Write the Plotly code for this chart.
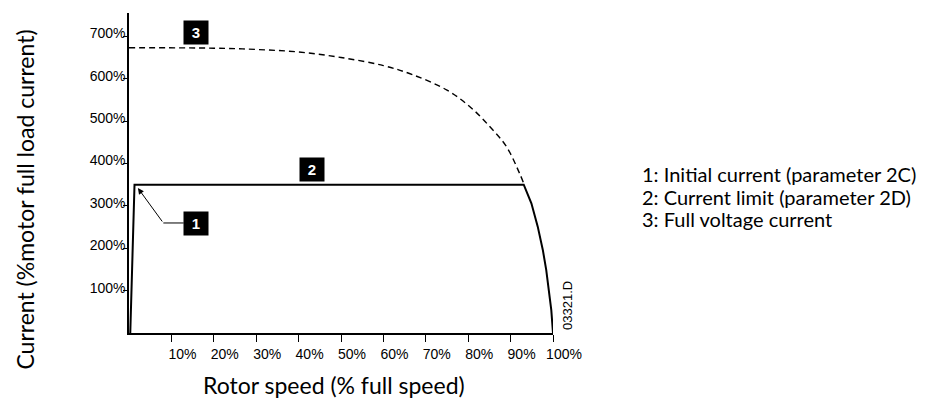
import plotly.graph_objects as go

# ---- data ----
speed_limit = [0.3, 1.3, 93.1, 94.9, 96.4, 97.6, 98.4, 99.0, 99.6, 100.0]
current_limit = [0, 350, 350, 306, 251, 196, 149, 101, 54, 0]

speed_full = [0, 20, 30, 40, 50, 60, 67, 75, 80.4, 85, 89, 92.1, 93.1]
current_full = [673, 672, 669, 663, 650, 631, 609, 573, 534, 488, 440, 377, 353]

x_ticks = [10, 20, 30, 40, 50, 60, 70, 80, 90, 100]
x_labels = ["10%", "20%", "30%", "40%", "50%", "60%", "70%", "80%", "90%", "100%"]
y_ticks = [100, 200, 300, 400, 500, 600, 700]
y_labels = ["100%", "200%", "300%", "400%", "500%", "600%", "700%"]

legend_lines = ["1: Initial current (parameter 2C)",
                "2: Current limit (parameter 2D)",
                "3: Full voltage current"]

fig = go.Figure()
fig.add_trace(go.Scatter(x=speed_full, y=current_full, mode="lines",
                         line=dict(color="black", width=1.4, dash="6px,4px"),
                         line_shape="spline", cliponaxis=False, hoverinfo="skip"))
fig.add_trace(go.Scatter(x=speed_limit, y=current_limit, mode="lines",
                         line=dict(color="black", width=2),
                         cliponaxis=False, hoverinfo="skip"))
# arrow leader horizontal segment
fig.add_trace(go.Scatter(x=[8.1, 12.9], y=[259.6, 259.6], mode="lines",
                         line=dict(color="black", width=1), hoverinfo="skip"))

# page body has an 8px margin, so the figure is drawn offset by (8, 8)
fig.update_layout(
    width=910, height=391,
    margin=dict(l=120.5, r=364.5, t=5, b=66),
    paper_bgcolor="white", plot_bgcolor="white",
    showlegend=False,
    font=dict(family="Liberation Sans, Arial, sans-serif", color="black"),
)
fig.update_xaxes(range=[0, 100], showgrid=False, zeroline=False,
                 showline=True, linecolor="black", linewidth=1.5,
                 ticks="outside", ticklen=7, tickwidth=1, tickcolor="black",
                 tickvals=x_ticks, ticktext=x_labels,
                 tickfont=dict(size=14, family="Liberation Sans, Arial"),
                 ticklabelshift=11)
fig.update_yaxes(range=[0, 755], showgrid=False, zeroline=False,
                 showline=True, linecolor="black", linewidth=1.5,
                 ticks="outside", ticklen=4, tickwidth=1, tickcolor="black",
                 tickvals=y_ticks, ticktext=y_labels,
                 tickfont=dict(size=14, family="Liberation Sans, Arial"),
                 ticklabelstandoff=-5, ticklabelshift=-3)

def box(x, y, t):
    fig.add_annotation(x=x, y=y, xref="x", yref="y", text="<b>%s</b>" % t,
                       showarrow=False, bgcolor="black", width=24, height=23,
                       borderpad=0,
                       font=dict(color="white", size=15, family="Liberation Sans, Arial"))

box(15.9, 708, "3")
box(43.2, 385, "2")
box(15.8, 258, "1")

# arrow to initial current point
fig.add_annotation(x=2.1, y=342, ax=8.1, ay=259.6, xref="x", yref="y",
                   axref="x", ayref="y", text="", showarrow=True,
                   arrowhead=2, arrowsize=1.2, arrowwidth=1, arrowcolor="black")

# legend text
for i, line in enumerate(legend_lines):
    fig.add_annotation(x=1.2059, y=376 - i * 54, xref="paper", yref="y",
                       text=line, showarrow=False,
                       xanchor="left", yanchor="middle", align="left",
                       font=dict(size=20, family="Lato, sans-serif", color="black"))

# axis titles
fig.add_annotation(x=48.4, y=-0.1625, xref="x", yref="paper",
                   text="Rotor speed (% full speed)", showarrow=False,
                   xanchor="center", yanchor="middle",
                   font=dict(size=23, family="Lato, sans-serif", color="black"))
fig.add_annotation(x=-0.246, y=314, xref="paper", yref="y",
                   text="Current (%motor full load current)", showarrow=False,
                   textangle=-90, xanchor="center", yanchor="middle",
                   font=dict(size=23, family="Lato, sans-serif", color="black"))

# drawing number
fig.add_annotation(x=1.034, y=0.003, xref="paper", yref="paper", text="03321.D",
                   showarrow=False, textangle=-90, xanchor="center", yanchor="bottom",
                   font=dict(size=13, family="Liberation Sans, Arial", color="black"))

fig.write_html("out.html")
